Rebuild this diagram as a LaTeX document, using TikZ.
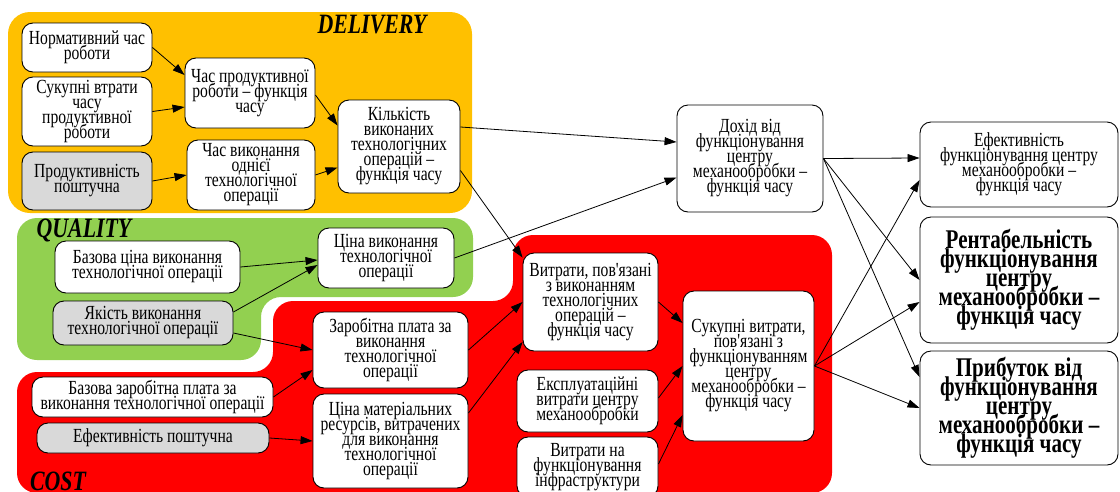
\documentclass[tikz,border=0pt]{standalone}
\usepackage{fontspec}
\setmainfont{Liberation Serif}
\newfontfamily\nf[FakeStretch=0.78]{Liberation Serif}
\usetikzlibrary{arrows.meta}
\definecolor{dorange}{HTML}{FFC000}
\definecolor{qgreen}{HTML}{92D050}
\definecolor{cred}{HTML}{FF0000}
\definecolor{boxgray}{HTML}{D9D9D9}
\newcommand\boxfont{\nf\fontsize{20}{15}\selectfont\lineskiplimit=-100pt\lineskip=0pt}
\newcommand\bigboxfont{\nf\bfseries\fontsize{27}{19}\selectfont\lineskiplimit=-100pt\lineskip=0pt}
\newcommand\regionfont{\nf\bfseries\itshape\fontsize{28}{28}\selectfont}
\tikzset{
  box/.style={draw, line width=0.9pt, rounded corners=11pt, fill=white, align=center, inner sep=1pt, font=\boxfont},
  gbox/.style={box, fill=boxgray},
  bbox/.style={box, font=\bigboxfont},
  conn/.style={-{Triangle[length=12pt,width=8pt]}, line width=0.8pt},
  regionlbl/.style={font=\regionfont, inner sep=0pt, anchor=base},
}
\begin{document}
\begin{tikzpicture}[x=1pt, y=-1pt]
\useasboundingbox (0,0) rectangle (1120,491);
\clip (0,0) rectangle (1120,491);
% regions
\fill[dorange, rounded corners=22pt] (8,12) rectangle (472,213);
\fill[qgreen, rounded corners=20pt] (17,218) -- (473,218) -- (473,297) -- (261,297) -- (261,360) -- (17,360) -- cycle;
\fill[cred, rounded corners=20pt] (17,493) -- (17,372) -- (273,372) -- (273,301) -- (513,301) -- (513,235) -- (832,235) -- (832,493) -- cycle;
\node[regionlbl] (ldel) at (372,33) {DELIVERY};
\node[regionlbl] (lqual) at (84,237) {QUALITY};
\node[regionlbl] (lcost) at (58,490) {COST};
% nodes
\node[box, minimum width=130pt, minimum height=49pt] (n1) at (87,47.5) {Нормативний час\\роботи};
\node[box, minimum width=130pt, minimum height=69pt] (n2) at (87,111.5) {Сукупні втрати\\часу\\продуктивної\\роботи};
\node[gbox, minimum width=130pt, minimum height=58pt] (n3) at (87,181) {Продуктивність\\поштучна};
\node[box, minimum width=130pt, minimum height=70pt] (n4) at (250,93) {Час продуктивної\\роботи – функція\\часу};
\node[box, minimum width=128pt, minimum height=70pt] (n5) at (251,175) {Час виконання\\однієї\\технологічної\\операції};
\node[box, minimum width=122pt, minimum height=93pt] (n6) at (399,146.5) {Кількість\\виконаних\\технологічних\\операцій –\\функція часу};
\node[box, minimum width=185pt, minimum height=52pt] (n7) at (147.5,267) {Базова ціна виконання\\технологічної операції};
\node[gbox, minimum width=180pt, minimum height=44pt] (n8) at (143,323) {Якість виконання\\технологічної операції};
\node[box, minimum width=136pt, minimum height=60pt] (n9) at (386,258) {Ціна виконання\\технологічної\\операції};
\node[box, minimum width=155pt, minimum height=76pt] (n10) at (390.5,350) {Заробітна плата за\\виконання\\технологічної\\операції};
\node[box, minimum width=241pt, minimum height=40pt] (n11) at (152.5,397) {Базова заробітна плата за\\виконання технологічної операції};
\node[gbox, minimum width=232pt, minimum height=30pt] (n12) at (153,438) {Ефективність поштучна};
\node[box, minimum width=155pt, minimum height=94pt] (n13) at (390.5,441) {Ціна матеріальних\\ресурсів, витрачених\\для виконання\\технологічної\\операції};
\node[box, minimum width=146pt, minimum height=107pt] (n14) at (750,158.5) {Дохід від\\функціонування\\центру\\механообробки –\\функція часу};
\node[box, minimum width=135pt, minimum height=98pt] (n15) at (590.5,302) {Витрати, пов'язані\\з виконанням\\технологічних\\операцій –\\функція часу};
\node[box, minimum width=141pt, minimum height=62pt] (n16) at (587.5,401) {Експлуатаційні\\витрати центру\\механообробки};
\node[box, minimum width=141pt, minimum height=60pt] (n17) at (587.5,467) {Витрати на\\функціонування\\інфраструктури};
\node[box, minimum width=131pt, minimum height=150pt] (n18) at (748.5,366) {Сукупні витрати,\\пов'язані з\\функціонуванням\\центру\\механообробки –\\функція часу};
\node[box, minimum width=198pt, minimum height=85pt] (n19) at (1019,164.5) {Ефективність\\функціонування центру\\механообробки –\\функція часу};
\node[bbox, minimum width=198pt, minimum height=126pt] (n20) at (1019,280) {Рентабельність\\функціонування\\центру\\механообробки –\\функція часу};
\node[bbox, minimum width=198pt, minimum height=114pt] (n21) at (1019,408) {Прибуток від\\функціонування\\центру\\механообробки –\\функція часу};
% connectors
\draw[conn] (n1.east) -- ([yshift=18pt]n4.west);
\draw[conn] (n2.east) -- ([yshift=-14pt]n4.west);
\draw[conn] (n3.east) -- (n5.west);
\draw[conn] ([yshift=-2pt]n4.east) -- ([yshift=21pt]n6.west);
\draw[conn] (n5.east) -- ([yshift=-21pt]n6.west);
\draw[conn] ([yshift=19.5pt]n6.east) -- ([yshift=16.5pt]n14.west);
\draw[conn] ([yshift=-24pt]n6.east) -- ([yshift=-5pt]n15.north west);
\draw[conn] (n7.east) -- ([yshift=-2pt]n9.west);
\draw[conn] ([yshift=11pt]n8.east) -- ([yshift=-7pt]n9.west);
\draw[conn] (n9.east) -- ([yshift=-19pt]n14.west);
\draw[conn] ([yshift=-10pt]n8.east) -- (n10.west);
\draw[conn] (n11.east) -- ([yshift=-20pt]n10.west);
\draw[conn] (n12.east) -- (n13.west);
\draw[conn] (n10.east) -- (n15.west);
\draw[conn] ([yshift=28pt]n13.east) -- ([yshift=-40pt]n15.west);
\draw[conn] (n15.east) -- ([yshift=43pt]n18.west);
\draw[conn] ([yshift=3pt]n16.east) -- (n18.west);
\draw[conn] ([yshift=3pt]n17.east) -- ([yshift=-49pt]n18.west);
\draw[conn] (n14.east) -- ([yshift=6.5pt]n19.west);
\draw[conn] (n14.east) -- (n20.west);
\draw[conn] (n14.east) -- ([yshift=31pt]n21.west);
\draw[conn] (n18.east) -- ([yshift=-15.5pt]n19.west);
\draw[conn] (n18.east) -- ([yshift=-22pt]n20.west);
\draw[conn] (n18.east) -- (n21.west);
\end{tikzpicture}
\end{document}
